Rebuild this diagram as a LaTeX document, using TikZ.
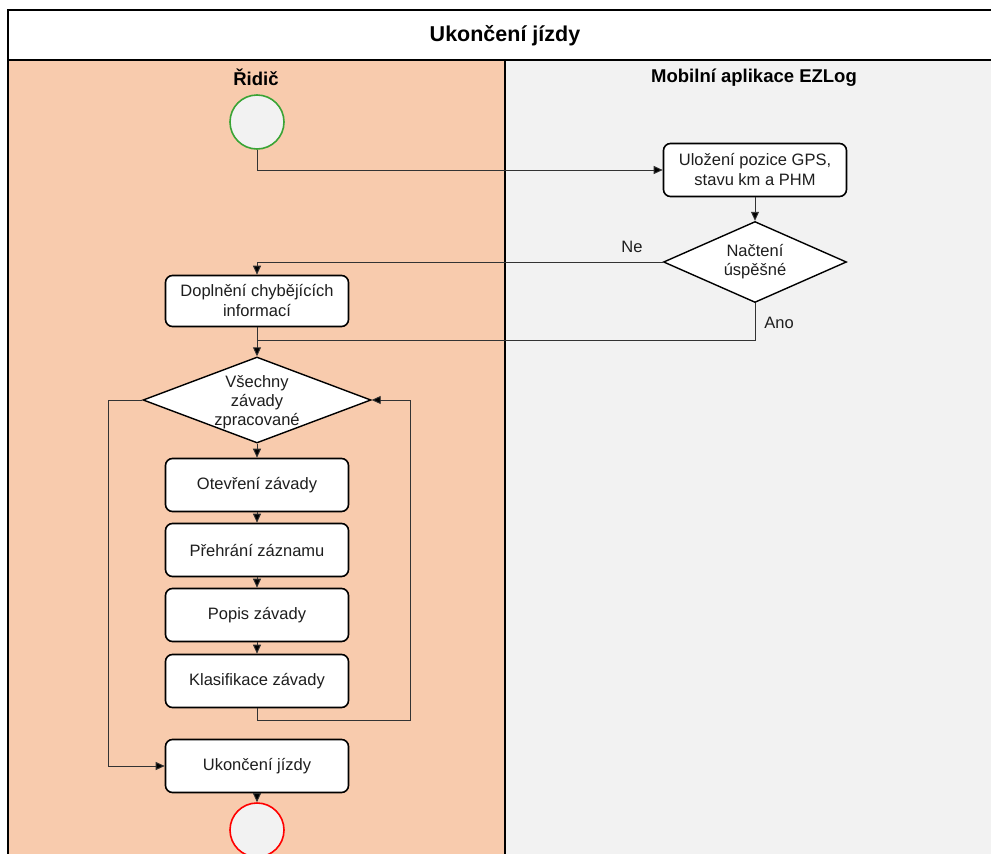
\documentclass[tikz,border=0pt]{standalone}
\usepackage{fontspec}
\setmainfont{Liberation Sans}
\usetikzlibrary{shapes.geometric,arrows.meta}
\definecolor{driverlane}{HTML}{F8CBAD}
\definecolor{applane}{HTML}{F2F2F2}
\definecolor{linegray}{HTML}{333333}
\definecolor{inkgray}{HTML}{1E1E1E}
\definecolor{startgreen}{HTML}{3AA435}
\tikzset{
  bodyfont/.style={font=\fontsize{16.5}{20}\selectfont, text=inkgray},
  stepbox/.style={draw=black, line width=1.6pt, rounded corners=7pt, fill=white,
    minimum width=183pt, minimum height=53pt, align=center, inner sep=2pt, bodyfont},
  decision/.style={draw=black, line width=1.4pt, diamond, fill=white, inner sep=0pt},
  decisiontext/.style={align=center, inner sep=0pt, font=\fontsize{16.5}{19}\selectfont, text=inkgray},
  terminal/.style={circle, fill=applane, line width=1.6pt, minimum size=54pt, inner sep=0pt},
  flow/.style={draw=linegray, line width=0.9pt, -{Triangle[length=9pt,width=8pt,fill=black]}},
  plain/.style={draw=linegray, line width=0.9pt},
  lbl/.style={bodyfont},
  lanehead/.style={font=\bfseries\fontsize{18.5}{22}\selectfont},
}
\begin{document}
\begin{tikzpicture}[x=1pt,y=-1pt]
\useasboundingbox (0,0) rectangle (991,854);
\clip (0,0) rectangle (991,854);
% swimlane backgrounds and frame
\fill[white] (0,0) rectangle (991,854);
\fill[driverlane] (8,60) rectangle (505,870);
\fill[applane] (505,60) rectangle (1000,870);
\draw[line width=1.5pt] (8,870) -- (8,10) -- (1000,10);
\draw[line width=1.5pt] (8,60) -- (1000,60);
\draw[line width=1.8pt] (505,60) -- (505,870);
\node[font=\bfseries\fontsize{21.5}{24}\selectfont] (title) at (505,36) {Ukončení jízdy};
\node[lanehead] (laneA) at (256,77) {Řidič};
\node[lanehead] (laneB) at (754,78) {Mobilní aplikace EZLog};

% nodes
\node[terminal, draw=startgreen] (start) at (257,122) {};
\node[stepbox] (gps) at (755,170) {Uložení pozice GPS,\\stavu km a PHM};
\node[decision, minimum width=183pt, minimum height=81pt] (load) at (755,262) {};
\node[decisiontext] (loadText) at (load) {Načtení\\úspěšné};
\node[stepbox, minimum height=51pt] (fill) at (257,301) {Doplnění chybějících\\informací};
\node[decision, minimum width=228pt, minimum height=86pt] (all) at (257,400) {};
\node[decisiontext] (allText) at (257,402) {Všechny\\závady\\zpracované};
\node[stepbox] (open) at (257,485) {Otevření závady};
\node[stepbox] (play) at (257,550) {Přehrání záznamu};
\node[stepbox] (desc) at (257,615) {Popis závady};
\node[stepbox] (cls) at (257,681) {Klasifikace závady};
\node[stepbox] (finish) at (257,766) {Ukončení jízdy};
\node[terminal, draw=red] (stop) at (257,830) {};

\coordinate (j1) at (257,170);
\coordinate (ne) at (257,262);
\coordinate (ano1) at (755,340);
\coordinate (ano2) at (257,340);
\coordinate (loopA) at (108,400);
\coordinate (loopB) at (108,766);
\coordinate (backA) at (257,720);
\coordinate (backB) at (410,720);
\coordinate (backC) at (410,400);

% connectors
\draw[flow] (start.south) -- (j1) -- (gps.west);
\draw[flow] (gps.south) -- (load.north);
\draw[flow] (load.west) -- (ne) -- (fill.north);
\node[lbl] (neLbl) at (632,247) {Ne};
\draw[plain] (load.south) -- (ano1) -- (ano2);
\node[lbl] (anoLbl) at (779,323) {Ano};
\draw[flow] (fill.south) -- (all.north);
\draw[flow] (all.west) -- (loopA) -- (loopB) -- (finish.west);
\draw[flow] (all.south) -- (open.north);
\draw[flow] (open.south) -- (play.north);
\draw[flow] (play.south) -- (desc.north);
\draw[flow] (desc.south) -- (cls.north);
\draw[flow] (cls.south) -- (backA) -- (backB) -- (backC) -- (all.east);
\draw[flow] (finish.south) -- (stop.north);
\end{tikzpicture}
\end{document}
